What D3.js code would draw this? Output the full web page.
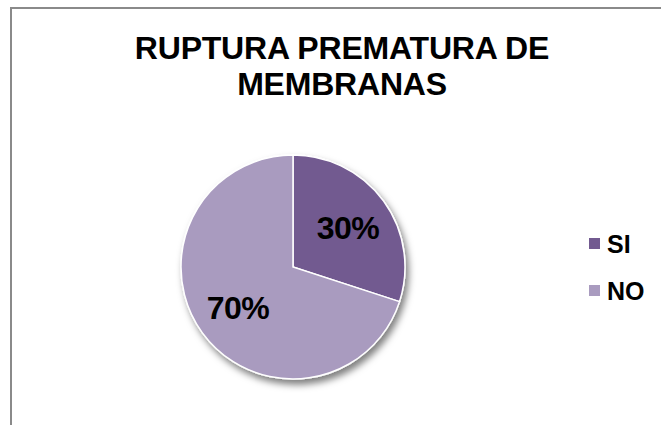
<!DOCTYPE html>
<html>
<head>
<meta charset="utf-8">
<script src="https://cdn.jsdelivr.net/npm/d3@7"></script>
<style>
  html, body { margin: 0; padding: 0; background: #fff; }
  svg { display: block; font-family: "Liberation Sans", Arial, sans-serif; }
</style>
</head>
<body>
<div id="vis"></div>
<script>
// data
const categories = ["SI", "NO"];
const values = [30, 70];
const titleLines = ["RUPTURA PREMATURA DE", "MEMBRANAS"];

const options = {
  width: 661,
  height: 425,
  cx: 293,
  cy: 267,
  radius: 112,
  colors: ["#725a90", "#a99bbf"],
};

const data = categories.map((c, i) => ({ label: c, value: values[i] }));
const total = d3.sum(values);

const svg = d3
  .select("#vis")
  .append("svg")
  .attr("width", options.width)
  .attr("height", options.height);

// drop shadow under the pie
const defs = svg.append("defs");
const filter = defs.append("filter").attr("id", "shadow")
  .attr("x", "-20%").attr("y", "-20%").attr("width", "140%").attr("height", "140%");
filter.append("feDropShadow")
  .attr("dx", 3).attr("dy", 5).attr("stdDeviation", 3.5)
  .attr("flood-color", "#000").attr("flood-opacity", 0.5);

// chart area frame (only top and left visible)
svg.append("path")
  .attr("d", `M11,${options.height} V8 H${options.width}`)
  .attr("fill", "none")
  .attr("stroke", "#8a8a8a")
  .attr("stroke-width", 2);

// title
svg.append("text")
  .attr("x", 342)
  .attr("y", 59)
  .attr("text-anchor", "middle")
  .attr("font-size", 32)
  .attr("font-weight", "bold")
  .attr("letter-spacing", -0.2)
  .selectAll("tspan")
  .data(titleLines)
  .join("tspan")
  .attr("x", 342)
  .attr("dy", (d, i) => (i === 0 ? 0 : 36))
  .text((d) => d);

// pie
const pie = d3.pie().sort(null).value((d) => d.value);
const arc = d3.arc().innerRadius(0).outerRadius(options.radius);
const labelArc = d3.arc().innerRadius(68).outerRadius(68);
const color = d3.scaleOrdinal().domain(categories).range(options.colors);

const g = svg.append("g")
  .attr("transform", `translate(${options.cx},${options.cy})`);

g.append("g")
  .attr("filter", "url(#shadow)")
  .selectAll("path")
  .data(pie(data))
  .join("path")
  .attr("d", arc)
  .attr("fill", (d) => color(d.data.label))
  .attr("stroke", "#fff")
  .attr("stroke-width", 1.5);

g.selectAll("text.pct")
  .data(pie(data))
  .join("text")
  .attr("class", "pct")
  .attr("transform", (d) => `translate(${labelArc.centroid(d)})`)
  .attr("text-anchor", "middle")
  .attr("dy", "0.36em")
  .attr("font-size", 32)
  .attr("font-weight", "bold")
  .attr("letter-spacing", -0.5)
  .attr("fill", "#000")
  .text((d) => d3.format(".0%")(d.data.value / total));

// legend
const legend = svg.append("g")
  .attr("transform", "translate(589,238)");

const items = legend.selectAll("g")
  .data(categories)
  .join("g")
  .attr("transform", (d, i) => `translate(0,${i * 47})`);

items.append("rect")
  .attr("width", 11)
  .attr("height", 11)
  .attr("fill", (d) => color(d));

items.append("text")
  .attr("x", 18)
  .attr("y", 15)
  .attr("font-size", 25)
  .attr("font-weight", "bold")
  .text((d) => d);
</script>
</body>
</html>
